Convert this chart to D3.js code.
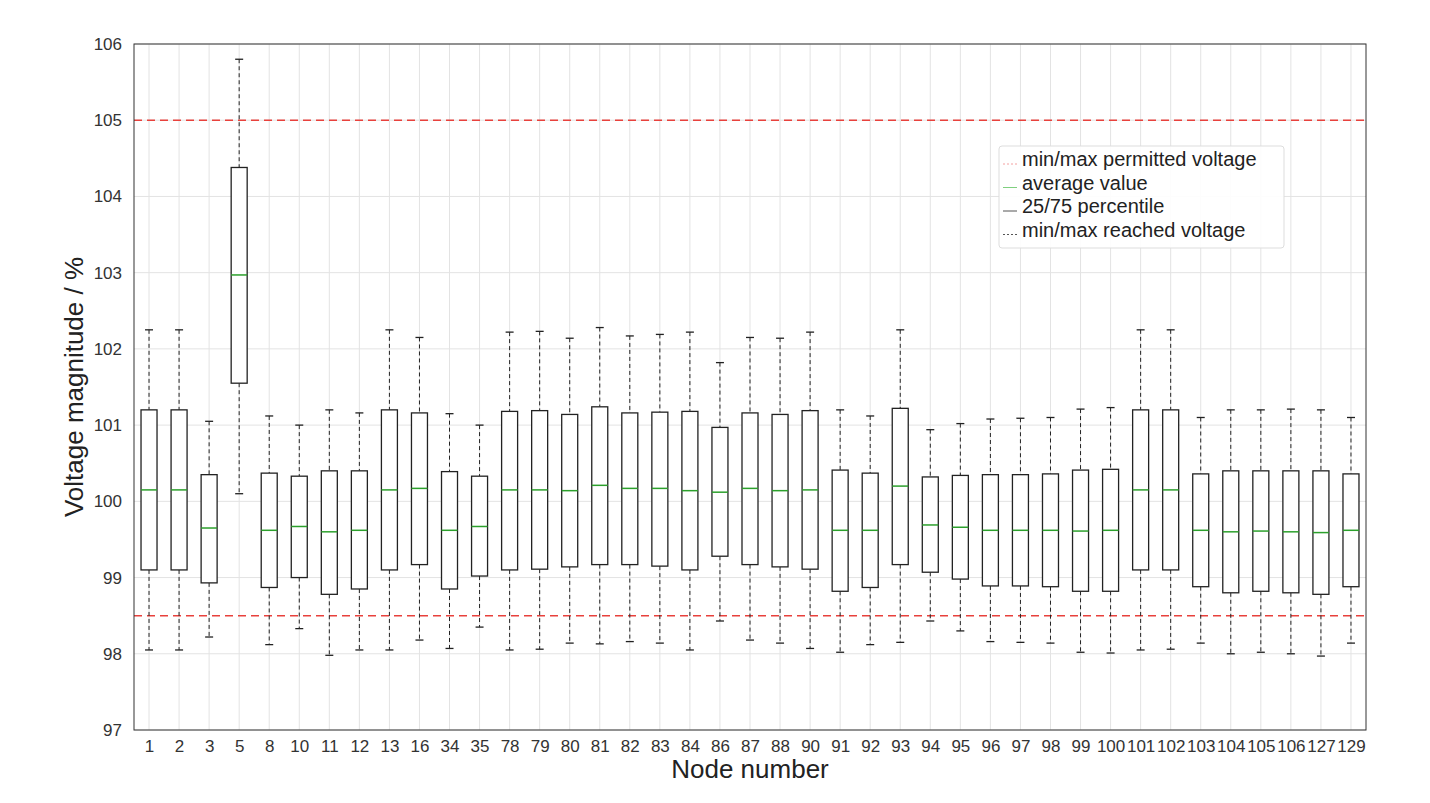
<!DOCTYPE html>
<html><head><meta charset="utf-8">
<script src="https://cdn.jsdelivr.net/npm/d3@7"></script>
<style>body{margin:0;background:#fff}</style>
</head><body><div id="chart"></div>
<script>
const nodes = ['1','2','3','5','8','10','11','12','13','16','34','35','78','79','80','81','82','83','84','86','87','88','90','91','92','93','94','95','96','97','98','99','100','101','102','103','104','105','106','127','129']
const vMin = [98.05,98.05,98.22,100.1,98.12,98.33,97.98,98.05,98.05,98.18,98.07,98.35,98.05,98.06,98.14,98.13,98.16,98.14,98.05,98.43,98.18,98.14,98.07,98.02,98.12,98.15,98.43,98.3,98.16,98.15,98.14,98.02,98.01,98.05,98.06,98.14,98.0,98.02,98.0,97.97,98.14]
const vQ1 = [99.1,99.1,98.93,101.55,98.87,99.0,98.78,98.85,99.1,99.17,98.85,99.02,99.1,99.11,99.14,99.17,99.17,99.15,99.1,99.28,99.17,99.14,99.11,98.82,98.87,99.17,99.07,98.98,98.89,98.89,98.88,98.82,98.82,99.1,99.1,98.88,98.8,98.82,98.8,98.78,98.88]
const vMed = [100.15,100.15,99.65,102.97,99.62,99.67,99.6,99.62,100.15,100.17,99.62,99.67,100.15,100.15,100.14,100.21,100.17,100.17,100.14,100.12,100.17,100.14,100.15,99.62,99.62,100.2,99.69,99.66,99.62,99.62,99.62,99.61,99.62,100.15,100.15,99.62,99.6,99.61,99.6,99.59,99.62]
const vQ3 = [101.2,101.2,100.35,104.38,100.37,100.33,100.4,100.4,101.2,101.16,100.39,100.33,101.18,101.19,101.14,101.24,101.16,101.17,101.18,100.97,101.16,101.14,101.19,100.41,100.37,101.22,100.32,100.34,100.35,100.35,100.36,100.41,100.42,101.2,101.2,100.36,100.4,100.4,100.4,100.4,100.36]
const vMax = [102.25,102.25,101.05,105.8,101.12,101.0,101.2,101.16,102.25,102.15,101.15,101.0,102.22,102.23,102.14,102.28,102.17,102.19,102.22,101.82,102.15,102.14,102.22,101.2,101.12,102.25,100.94,101.02,101.08,101.09,101.1,101.21,101.23,102.25,102.25,101.1,101.2,101.2,101.21,101.2,101.1]
const limits = [98.5, 105]
const yTicks = d3.range(97, 107)
const legendItems = [
  { label: 'min/max permitted voltage', color: '#f4a0a0', dash: '2,2' },
  { label: 'average value', color: '#7fd07f', dash: null },
  { label: '25/75 percentile', color: '#555', dash: null },
  { label: 'min/max reached voltage', color: '#555', dash: '2,2' }
]

const W = 1430, H = 803
const m = { top: 44, right: 64, bottom: 73, left: 134 }
const svg = d3.select('#chart').append('svg').attr('width', W).attr('height', H)
  .style('font-family', 'Liberation Sans, Arial, sans-serif')
const g = svg.append('g').attr('transform', `translate(${m.left},${m.top})`)
const iw = W - m.left - m.right, ih = H - m.top - m.bottom

const x = d3.scalePoint().domain(nodes).range([0, iw]).padding(0.5)
const y = d3.scaleLinear().domain([97, 106]).range([ih, 0])

// grid
g.append('g').selectAll('line').data(nodes).join('line')
  .attr('x1', d => x(d)).attr('x2', d => x(d)).attr('y1', 0).attr('y2', ih)
  .attr('stroke', '#e3e3e3')
g.append('g').selectAll('line').data(yTicks).join('line')
  .attr('x1', 0).attr('x2', iw).attr('y1', d => y(d)).attr('y2', d => y(d))
  .attr('stroke', '#e3e3e3')

// limits
g.selectAll('.lim').data(limits).join('line').attr('class', 'lim')
  .attr('x1', 0).attr('x2', iw).attr('y1', d => y(d)).attr('y2', d => y(d))
  .attr('stroke', '#e8413c').attr('stroke-width', 1.5).attr('stroke-dasharray', '8,5')

// boxes
const bw = 16, cap = 8
const boxes = g.append('g').selectAll('g').data(nodes).join('g')
  .attr('transform', d => `translate(${x(d)},0)`)
boxes.append('line').attr('y1', (d, i) => y(vMax[i])).attr('y2', (d, i) => y(vQ3[i]))
  .attr('stroke', '#222').attr('stroke-dasharray', '4,3')
boxes.append('line').attr('y1', (d, i) => y(vQ1[i])).attr('y2', (d, i) => y(vMin[i]))
  .attr('stroke', '#222').attr('stroke-dasharray', '4,3')
boxes.append('line').attr('x1', -cap / 2).attr('x2', cap / 2)
  .attr('y1', (d, i) => y(vMax[i])).attr('y2', (d, i) => y(vMax[i])).attr('stroke', '#222').attr('stroke-width', 1.3)
boxes.append('line').attr('x1', -cap / 2).attr('x2', cap / 2)
  .attr('y1', (d, i) => y(vMin[i])).attr('y2', (d, i) => y(vMin[i])).attr('stroke', '#222').attr('stroke-width', 1.3)
boxes.append('rect').attr('x', -bw / 2).attr('width', bw)
  .attr('y', (d, i) => y(vQ3[i])).attr('height', (d, i) => y(vQ1[i]) - y(vQ3[i]))
  .attr('fill', '#fff').attr('stroke', '#222').attr('stroke-width', 1.3)
boxes.append('line').attr('x1', -bw / 2).attr('x2', bw / 2)
  .attr('y1', (d, i) => y(vMed[i])).attr('y2', (d, i) => y(vMed[i]))
  .attr('stroke', '#2ca02c').attr('stroke-width', 1.5)

// frame
g.append('rect').attr('width', iw).attr('height', ih).attr('fill', 'none').attr('stroke', '#333')

// axes
const xa = g.append('g').attr('transform', `translate(0,${ih})`).call(d3.axisBottom(x).tickSize(0).tickPadding(10))
const ya = g.append('g').call(d3.axisLeft(y).tickValues(yTicks).tickSize(0).tickPadding(12).tickFormat(d3.format('d')))
;[xa, ya].forEach(a => {
  a.select('.domain').remove()
  a.selectAll('text').attr('font-size', 17).attr('fill', '#333').style('font-family', 'Liberation Sans, Arial, sans-serif')
})

svg.append('text').attr('x', m.left + iw / 2).attr('y', 778).attr('text-anchor', 'middle')
  .attr('font-size', 26).attr('fill', '#222').text('Node number')
svg.append('text').attr('transform', `translate(83,${m.top + ih / 2}) rotate(-90)`).attr('text-anchor', 'middle')
  .attr('font-size', 26).attr('fill', '#222').text('Voltage magnitude / %')

// legend
const lg = svg.append('g').attr('transform', 'translate(999,146)')
lg.append('rect').attr('width', 285).attr('height', 102).attr('rx', 3)
  .attr('fill', 'rgba(255,255,255,0.9)').attr('stroke', '#ddd')
const li = lg.selectAll('.li').data(legendItems).join('g').attr('class', 'li')
  .attr('transform', (d, i) => `translate(4,${8 + i * 23.5})`)
li.append('line').attr('x1', 0).attr('x2', 14).attr('y1', 10).attr('y2', 10)
  .attr('stroke', d => d.color).attr('stroke-dasharray', d => d.dash)
li.append('text').attr('x', 19).attr('y', 5).attr('dy', '0.35em').attr('font-size', 20).attr('fill', '#222').text(d => d.label)
</script></body></html>
